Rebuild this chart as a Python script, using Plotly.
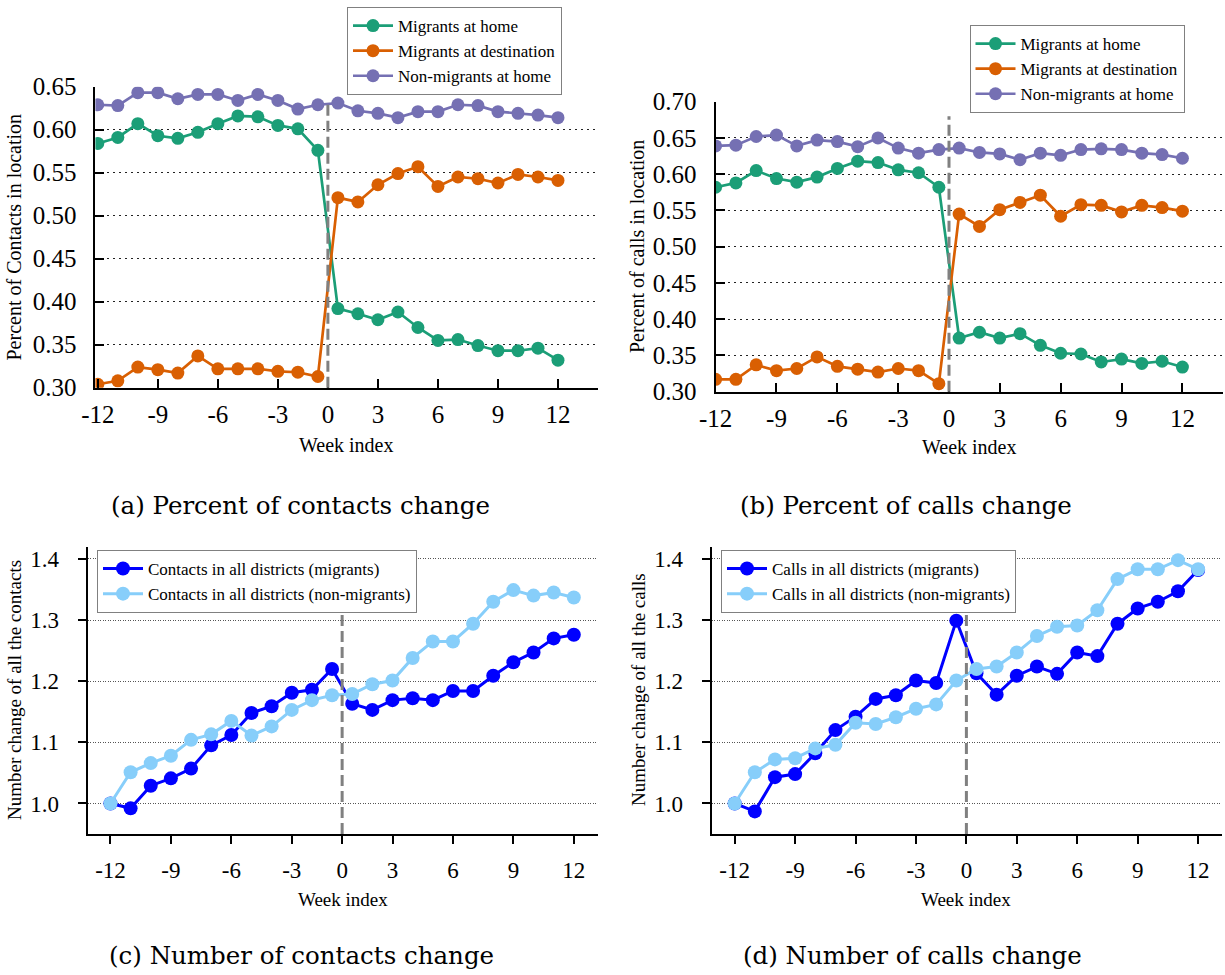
import plotly.graph_objects as go

# ---------------- data ----------------
weeks = [-12, -11, -10, -9, -8, -7, -6, -5, -4, -3, -2, -1,
         1, 2, 3, 4, 5, 6, 7, 8, 9, 10, 11, 12]
tick_weeks = [-12, -9, -6, -3, 0, 3, 6, 9, 12]

# (a) percent of contacts in location
a_mig_home = [0.584, 0.591, 0.607, 0.593, 0.590, 0.597, 0.607, 0.616, 0.615, 0.605, 0.601, 0.576,
              0.392, 0.386, 0.379, 0.388, 0.370, 0.355, 0.356, 0.349, 0.343, 0.343, 0.346, 0.332]
a_mig_dest = [0.304, 0.308, 0.324, 0.321, 0.317, 0.337, 0.322, 0.322, 0.322, 0.319, 0.318, 0.313,
              0.521, 0.516, 0.536, 0.549, 0.557, 0.534, 0.545, 0.543, 0.538, 0.548, 0.545, 0.541]
a_non_home = [0.629, 0.628, 0.643, 0.643, 0.636, 0.641, 0.641, 0.634, 0.641, 0.634, 0.624, 0.629,
              0.631, 0.622, 0.619, 0.614, 0.621, 0.621, 0.629, 0.628, 0.621, 0.619, 0.617, 0.614]

# (b) percent of calls in location
b_mig_home = [0.582, 0.588, 0.605, 0.594, 0.589, 0.596, 0.608, 0.618, 0.616, 0.606, 0.602, 0.582,
              0.374, 0.382, 0.374, 0.380, 0.364, 0.353, 0.352, 0.341, 0.345, 0.339, 0.342, 0.334]
b_mig_dest = [0.317, 0.317, 0.337, 0.329, 0.332, 0.348, 0.335, 0.331, 0.327, 0.332, 0.329, 0.311,
              0.545, 0.528, 0.551, 0.561, 0.571, 0.542, 0.558, 0.557, 0.548, 0.557, 0.554, 0.549]
b_non_home = [0.639, 0.640, 0.652, 0.654, 0.639, 0.647, 0.645, 0.638, 0.650, 0.636, 0.629, 0.634,
              0.636, 0.630, 0.628, 0.620, 0.629, 0.626, 0.634, 0.635, 0.634, 0.629, 0.627, 0.622]

# (c) number change of contacts
c_mig = [1.000, 0.992, 1.029, 1.041, 1.057, 1.095, 1.112, 1.148, 1.159, 1.181, 1.186, 1.220,
         1.163, 1.153, 1.169, 1.172, 1.169, 1.184, 1.184, 1.209, 1.231, 1.247, 1.270, 1.276]
c_non = [1.000, 1.051, 1.066, 1.078, 1.104, 1.113, 1.135, 1.111, 1.126, 1.153, 1.169, 1.177,
         1.179, 1.195, 1.201, 1.238, 1.265, 1.265, 1.294, 1.330, 1.349, 1.340, 1.345, 1.337]

# (d) number change of calls
d_mig = [1.000, 0.987, 1.043, 1.048, 1.082, 1.120, 1.142, 1.171, 1.177, 1.201, 1.197, 1.299,
         1.213, 1.178, 1.209, 1.224, 1.212, 1.247, 1.241, 1.294, 1.319, 1.330, 1.347, 1.382]
d_non = [1.000, 1.051, 1.072, 1.074, 1.090, 1.096, 1.132, 1.130, 1.141, 1.155, 1.162, 1.201,
         1.220, 1.224, 1.247, 1.274, 1.289, 1.291, 1.316, 1.367, 1.383, 1.383, 1.398, 1.383]

names_top = ["Migrants at home", "Migrants at destination", "Non-migrants at home"]
names_c = ["Contacts in all districts (migrants)", "Contacts in all districts (non-migrants)"]
names_d = ["Calls in all districts (migrants)", "Calls in all districts (non-migrants)"]
captions = ["(a) Percent of contacts change", "(b) Percent of calls change",
            "(c) Number of contacts change", "(d) Number of calls change"]
ytitles = ["Percent of Contacts in location", "Percent of calls in location",
           "Number change of all the contacts", "Number change of all the calls"]

# ---------------- helpers ----------------
W, H = 1225, 975


def pos(w):
    # weeks are shown at evenly spaced slots, week 0 sits between -1 and 1
    if w < 0:
        return w + 12
    if w > 0:
        return w + 11
    return 11.5


xs = [pos(w) for w in weeks]
tick_pos = [pos(w) for w in tick_weeks]
tick_txt = [str(w) for w in tick_weeks]

GREEN, ORANGE, PURPLE = "#1b9e77", "#d95f02", "#7570b3"
BLUE, LBLUE = "#0000ff", "#87cefa"
FONT = "Liberation Serif"

fig = go.Figure()


def px_x(p):
    return p / W


def px_y(p):
    return 1 - p / H


panels = {
    # key: (x0px, x1px, ytop, ybot, xrange, yrange)
    "a": (95.4, 598, 86.7, 387.7, [-0.12, 25.0], [0.30, 0.65]),
    "b": (715.6, 1223, 101.7, 391.7, [0.0, 25.0], [0.30, 0.70]),
    "c": (87.7, 598, 546.7, 834, [-1.13, 24.2], [0.95, 1.42]),
    "d": (711.7, 1221.7, 546.7, 834, [-1.14, 24.17], [0.95, 1.42]),
}
axis_ids = {"a": ("x", "y"), "b": ("x2", "y2"), "c": ("x3", "y3"), "d": ("x4", "y4")}

layout_axes = {}
for i, k in enumerate(["a", "b", "c", "d"]):
    x0, x1, yt, yb, xr, yr = panels[k]
    top = k in ("a", "b")
    xname = "xaxis" if i == 0 else f"xaxis{i+1}"
    yname = "yaxis" if i == 0 else f"yaxis{i+1}"
    yanchor = "y" if i == 0 else f"y{i+1}"
    xanchor = "x" if i == 0 else f"x{i+1}"
    if top:
        yticks = [round(0.30 + 0.05 * j, 2) for j in range(int(round((yr[1] - 0.30) / 0.05)) + 1)]
        yfmt = ".2f"
    else:
        yticks = [1.0, 1.1, 1.2, 1.3, 1.4]
        yfmt = ".1f"
    tfs = 25 if top else 23
    layout_axes[xname] = dict(
        domain=[px_x(x0), px_x(x1)], range=xr, anchor=yanchor, automargin=False,
        showline=True, linecolor="black", linewidth=2, mirror=False,
        showgrid=False, zeroline=False,
        tickmode="array", tickvals=tick_pos, ticktext=tick_txt,
        ticks="inside" if top else "outside", ticklen=9 if top else 8,
        tickwidth=2, tickcolor="black",
        ticklabelstandoff=3 if top else 6,
        tickfont=dict(family=FONT, size=tfs, color="black"),
    )
    layout_axes[yname] = dict(
        domain=[px_y(yb), px_y(yt)], range=yr, anchor=xanchor, automargin=False,
        showline=True, linecolor="black", linewidth=2, mirror=False,
        showgrid=True, gridcolor="#222222" if top else "#555555", gridwidth=1,
        griddash="2px,4px" if top else "1px,1.5px",
        zeroline=False,
        tickmode="array", tickvals=yticks, tickformat=yfmt,
        ticks="inside" if top else "outside", ticklen=9 if top else 8,
        tickwidth=2, tickcolor="black",
        ticklabelstandoff=12 if top else 14,
        tickfont=dict(family=FONT, size=tfs, color="black"),
    )


def add(k, y, name, color, legend, size):
    xa, ya = axis_ids[k]
    fig.add_trace(go.Scatter(
        x=xs, y=y, name=name, mode="lines+markers",
        line=dict(color=color, width=3 if k in ("c", "d") else 2.7),
        marker=dict(color=color, size=size),
        xaxis=xa, yaxis=ya, legend=legend, cliponaxis=True,
    ))


add("a", a_mig_home, names_top[0], GREEN, "legend", 13)
add("a", a_mig_dest, names_top[1], ORANGE, "legend", 13)
add("a", a_non_home, names_top[2], PURPLE, "legend", 13)
add("b", b_mig_home, names_top[0], GREEN, "legend2", 13)
add("b", b_mig_dest, names_top[1], ORANGE, "legend2", 13)
add("b", b_non_home, names_top[2], PURPLE, "legend2", 13)
add("c", c_mig, names_c[0], BLUE, "legend3", 14)
add("c", c_non, names_c[1], LBLUE, "legend3", 14)
add("d", d_mig, names_d[0], BLUE, "legend4", 14)
add("d", d_non, names_d[1], LBLUE, "legend4", 14)

# dashed vertical line at week 0
shapes = []
for k in ["a", "b", "c", "d"]:
    xa, ya = axis_ids[k]
    shapes.append(dict(
        type="line", xref=xa, yref=f"{ya} domain",
        x0=pos(0), x1=pos(0), y0=0, y1=0.95 if k in ("a", "b") else 1.0,
        line=dict(color="#808080", width=3, dash="11px,5px"), layer="above",
    ))

annotations = []
ytitle_pos = {"a": (13.5, 237), "b": (637, 247), "c": (14, 690), "d": (638, 690)}
xtitle_pos = {"a": (346, 445), "b": (969, 447), "c": (343, 899), "d": (966, 899)}
cap_pos = {"a": (300, 505), "b": (906, 505), "c": (301, 955), "d": (912, 955)}
for i, k in enumerate(["a", "b", "c", "d"]):
    top = k in ("a", "b")
    tsz = 20 if top else 19
    x, y = ytitle_pos[k]
    annotations.append(dict(text=ytitles[i], x=px_x(x), y=px_y(y), xref="paper", yref="paper",
                            xanchor="center", yanchor="middle", showarrow=False, textangle=-90,
                            font=dict(family=FONT, size=tsz, color="black")))
    x, y = xtitle_pos[k]
    annotations.append(dict(text="Week index", x=px_x(x), y=px_y(y), xref="paper", yref="paper",
                            xanchor="center", yanchor="middle", showarrow=False,
                            font=dict(family=FONT, size=tsz, color="black")))
    x, y = cap_pos[k]
    annotations.append(dict(text=captions[i], x=px_x(x), y=px_y(y), xref="paper", yref="paper",
                            xanchor="center", yanchor="middle", showarrow=False,
                            font=dict(family="DejaVu Serif", size=24.5, color="black")))


def leg(xp, yp):
    return dict(x=px_x(xp), y=px_y(yp), xanchor="left", yanchor="top",
                bgcolor="white", bordercolor="#808080", borderwidth=1,
                font=dict(family=FONT, size=17, color="black"),
                itemwidth=40, tracegroupgap=0)


fig.update_layout(
    width=W, height=H, margin=dict(l=0, r=0, t=0, b=0, pad=0, autoexpand=False),
    paper_bgcolor="white", plot_bgcolor="white",
    showlegend=True,
    legend=leg(347, 7), legend2=leg(969.5, 25), legend3=leg(97, 550), legend4=leg(721, 550),
    shapes=shapes, annotations=annotations,
    **layout_axes,
)

fig.write_html("out.html")
